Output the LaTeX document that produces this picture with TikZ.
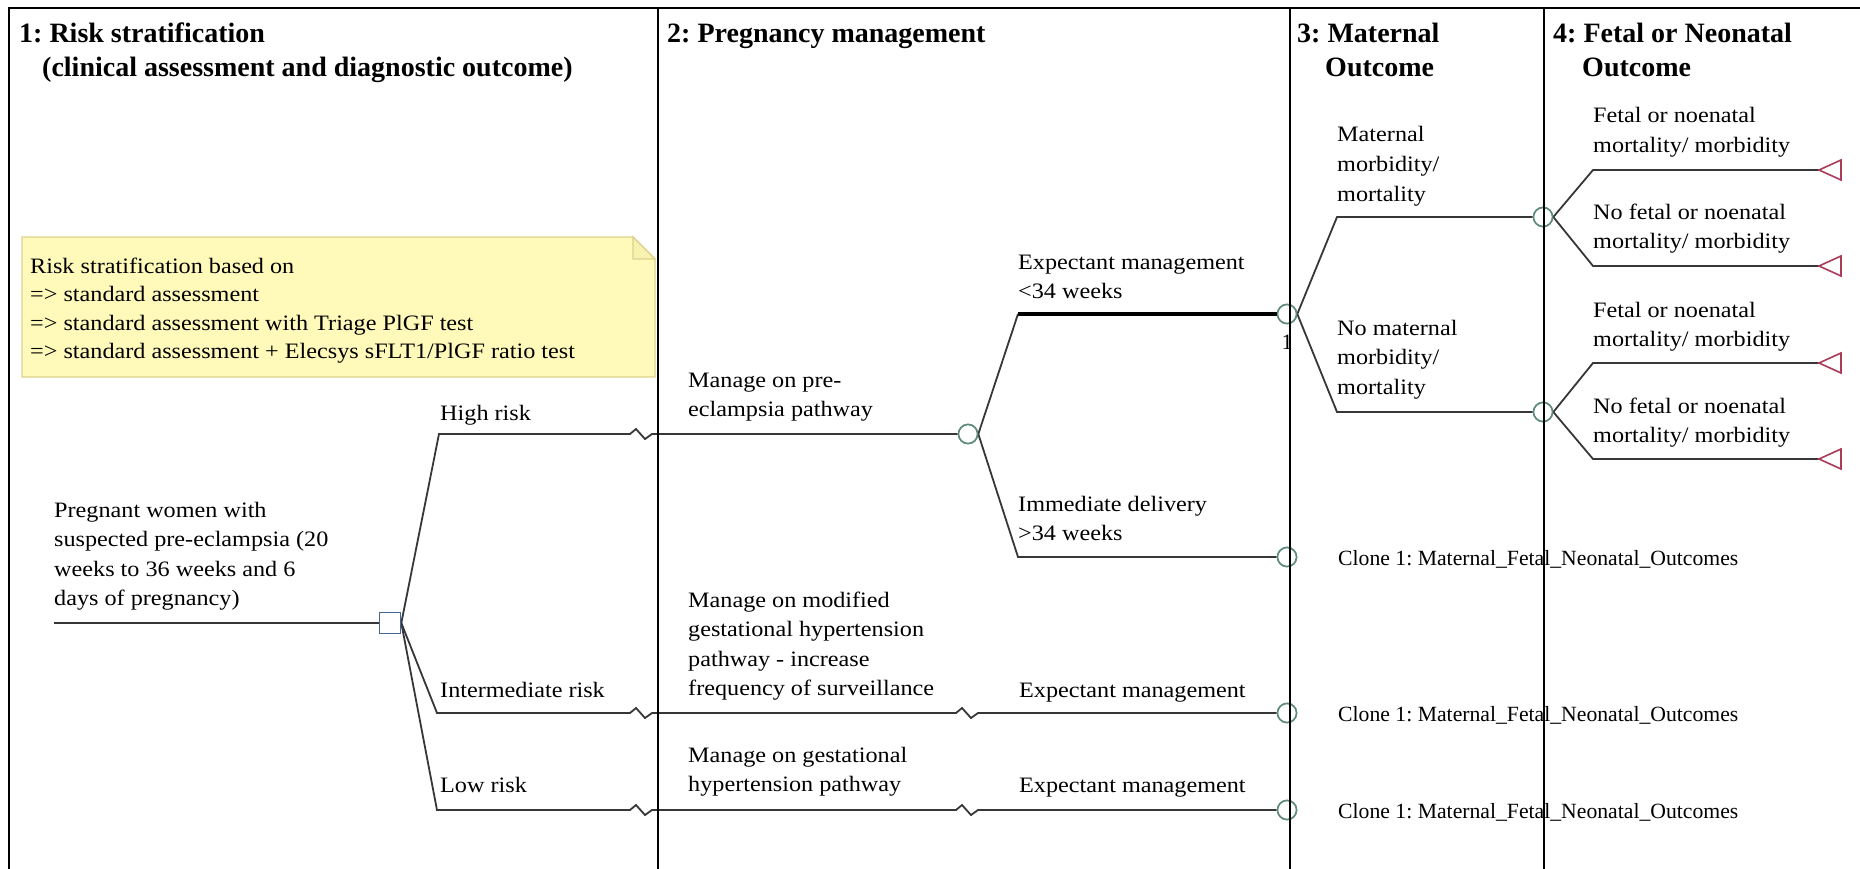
\documentclass[tikz,border=0pt]{standalone}
\usepackage{fontspec}
\setmainfont{Liberation Serif}
\newfontfamily\bodyfont[FakeStretch=1.1]{Liberation Serif}
\frenchspacing
\definecolor{linec}{RGB}{55,55,55}
\definecolor{chancec}{RGB}{95,140,125}
\definecolor{decc}{RGB}{70,100,150}
\definecolor{termc}{RGB}{170,60,90}
\definecolor{notefill}{RGB}{255,250,185}
\definecolor{notedraw}{RGB}{220,210,140}
\tikzset{
  ttl/.style={anchor=base west, inner sep=0pt, align=left, font=\fontsize{28}{34}\selectfont\bfseries},
  lbl/.style={anchor=base west, inner sep=0pt, align=left, font={\bodyfont\fontsize{22}{29.5}\selectfont}},
  notetxt/.style={anchor=base west, inner sep=0pt, align=left, font={\bodyfont\fontsize{22}{28.5}\selectfont}},
  clonetxt/.style={anchor=base west, inner sep=0pt, font=\fontsize{21.7}{26}\selectfont},
  branch/.style={draw=linec, line width=1.8pt},
  thickbranch/.style={draw=black, line width=4.5pt},
  chance/.style={circle, draw=chancec, fill=white, line width=1.6pt, minimum size=19pt, inner sep=0pt},
  decision/.style={rectangle, draw=decc, fill=white, line width=1.6pt, minimum size=21pt, inner sep=0pt},
  frameline/.style={draw=black, line width=2pt},
  divline/.style={draw=black, line width=1.6pt},
  termtri/.style={draw=termc, line width=1.6pt, fill=white}
}
\begin{document}
% note: for multi-line labels the given point is the baseline of the LAST line
\begin{tikzpicture}[x=1pt, y=-1pt]
\useasboundingbox (0,0) rectangle (1860,869);
\fill[white] (0,0) rectangle (1860,869);

% headers
\node[ttl] (h1) at (19,43) {1: Risk stratification};
\node[ttl] (h1b) at (42,77) {(clinical assessment and diagnostic outcome)};
\node[ttl] (h2) at (667,43) {2: Pregnancy management};
\node[ttl] (h3) at (1297,43) {3: Maternal};
\node[ttl] (h3b) at (1325,77) {Outcome};
\node[ttl] (h4) at (1553,43) {4: Fetal or Neonatal};
\node[ttl] (h4b) at (1582,77) {Outcome};

% note
\filldraw[fill=notefill, draw=notedraw, line width=1.2pt] (22,237) -- (633,237) -- (655,259) -- (655,377) -- (22,377) -- cycle;
\filldraw[fill=notefill!80!notedraw, draw=notedraw, line width=1.2pt] (633,237) -- (633,259) -- (655,259) -- cycle;
\node[notetxt] (note) at (30,358.5) {Risk stratification based on\\=> standard assessment\\=> standard assessment with Triage PlGF test\\=> standard assessment + Elecsys sFLT1/PlGF ratio test};

% nodes
\coordinate (root) at (54,623);
\node[decision] (D) at (390,623) {};
\node[chance] (C1) at (968,434) {};
\node[chance] (C2) at (1287,314) {};
\node[chance] (C3) at (1287,557) {};
\node[chance] (C4) at (1543,217) {};
\node[chance] (C5) at (1543,412) {};
\node[chance] (C6) at (1287,713) {};
\node[chance] (C7) at (1287,810) {};
\coordinate (T1) at (1819,170);
\coordinate (T2) at (1819,266);
\coordinate (T3) at (1819,363);
\coordinate (T4) at (1819,459);

% root
\node[lbl] (rootlbl) at (54,605.5) {Pregnant women with\\suspected pre-eclampsia (20\\weeks to 36 weeks and 6\\days of pregnancy)};
\draw[branch] (root) -- (D.west);

% high risk
\draw[branch] (D.east) -- (439,434) -- (630,434) -- ++(6,-5) -- ++(9,10) -- ++(7,-5) -- (C1.west);
\node[lbl] (hr) at (440,420) {High risk};
\node[lbl] (mpe) at (688,416.5) {Manage on pre-\\eclampsia pathway};

% expectant < 34
\draw[branch] (C1.east) -- (1018,314);
\draw[thickbranch] (1018,314) -- (C2.west);
\node[lbl] (exp34) at (1018,298.5) {Expectant management\\<34 weeks};

% immediate delivery
\draw[branch] (C1.east) -- (1018,557) -- (C3.west);
\node[lbl] (imm) at (1018,540.5) {Immediate delivery\\>34 weeks};
\node[clonetxt] (cl1) at (1338,565) {Clone 1: Maternal\_Fetal\_Neonatal\_Outcomes};

% maternal outcome
\draw[branch] (C2.east) -- (1337,217) -- (C4.west);
\node[lbl] (mm) at (1337,201) {Maternal\\morbidity/\\mortality};
\draw[branch] (C2.east) -- (1337,412) -- (C5.west);
\node[lbl] (nmm) at (1337,394) {No maternal\\morbidity/\\mortality};

% fetal outcomes
\draw[branch] (C4.east) -- (1593,170) -- (T1);
\node[lbl] (f1) at (1593,152.5) {Fetal or noenatal\\mortality/ morbidity};
\draw[branch] (C4.east) -- (1593,266) -- (T2);
\node[lbl] (f2) at (1593,248.5) {No fetal or noenatal\\mortality/ morbidity};
\draw[branch] (C5.east) -- (1593,363) -- (T3);
\node[lbl] (f3) at (1593,346.5) {Fetal or noenatal\\mortality/ morbidity};
\draw[branch] (C5.east) -- (1593,459) -- (T4);
\node[lbl] (f4) at (1593,442.5) {No fetal or noenatal\\mortality/ morbidity};
\foreach \t in {T1,T2,T3,T4}{
  \draw[termtri] (\t) -- ++(22,-10) -- ++(0,20) -- cycle;
}

% intermediate risk
\draw[branch] (D.east) -- (437,713) -- (630,713) -- ++(6,-5) -- ++(9,10) -- ++(7,-5) -- (956,713) -- ++(6,-5) -- ++(9,10) -- ++(7,-5) -- (C6.west);
\node[lbl] (ir) at (440,697) {Intermediate risk};
\node[lbl] (mmod) at (688,695.5) {Manage on modified\\gestational hypertension\\pathway - increase\\frequency of surveillance};
\node[lbl] (exp2) at (1019,697) {Expectant management};
\node[clonetxt] (cl2) at (1338,721) {Clone 1: Maternal\_Fetal\_Neonatal\_Outcomes};

% low risk
\draw[branch] (D.east) -- (437,810) -- (630,810) -- ++(6,-5) -- ++(9,10) -- ++(7,-5) -- (956,810) -- ++(6,-5) -- ++(9,10) -- ++(7,-5) -- (C7.west);
\node[lbl] (lr) at (440,792) {Low risk};
\node[lbl] (mges) at (688,791.5) {Manage on gestational\\hypertension pathway};
\node[lbl] (exp3) at (1019,792) {Expectant management};
\node[clonetxt] (cl3) at (1338,818) {Clone 1: Maternal\_Fetal\_Neonatal\_Outcomes};

% redraw nodes on top
\node[decision] at (D) {};
\foreach \c in {C1,C2,C3,C4,C5,C6,C7}{ \node[chance] at (\c) {}; }
\node[inner sep=0pt, font=\fontsize{22}{24}\selectfont] (one) at (1287,342) {1};

% frame and column dividers (drawn last, over nodes and texts as in the reference)
\draw[frameline] (9,869) -- (9,8) -- (1860,8);
\draw[divline] (658,8) -- (658,869);
\draw[divline] (1290,8) -- (1290,869);
\draw[divline] (1544,8) -- (1544,869);
\end{tikzpicture}
\end{document}
